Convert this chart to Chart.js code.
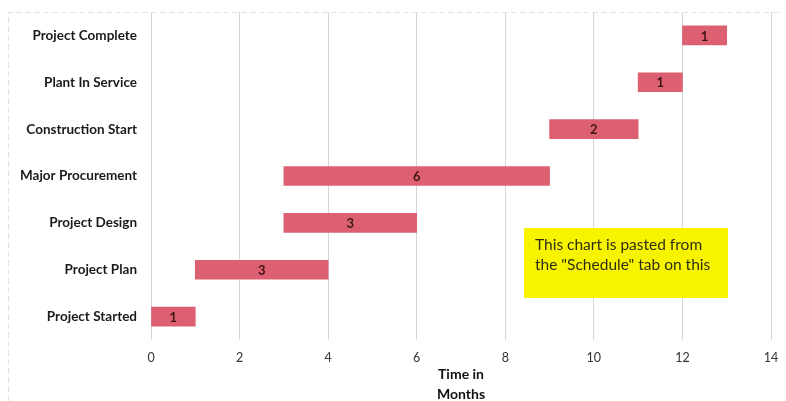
<!DOCTYPE html>
<html>
<head>
<meta charset="utf-8">
<script src="https://cdn.jsdelivr.net/npm/chart.js@4"></script>
<style>
  html, body { margin: 0; padding: 0; background: #fff; }
  #wrap { width: 786px; height: 401px; }
</style>
</head>
<body>
<div id="wrap"><canvas id="gantt" width="786" height="401"></canvas></div>
<script>
// Project phases, top to bottom
const categories = [
  'Project Complete',
  'Plant In Service',
  'Construction Start',
  'Major Procurement',
  'Project Design',
  'Project Plan',
  'Project Started'
];
// Start month and duration (months) of each phase
const startMonths = [12, 11, 9, 3, 3, 1, 0];
const durations   = [1, 1, 2, 6, 3, 3, 1];
const xTicks = [0, 2, 4, 6, 8, 10, 12, 14];
const noteLines = ['This chart is pasted from', 'the "Schedule" tab on this'];

const FONT = 'Lato, "Noto Sans", sans-serif';

// Each bar floats from its start month to start + duration
const spans = startMonths.map((s, i) => [s, s + durations[i]]);

// Duration label in the middle of each bar
const barLabels = {
  id: 'barLabels',
  afterDatasetsDraw(chart) {
    const ctx = chart.ctx;
    const meta = chart.getDatasetMeta(0);
    ctx.save();
    ctx.font = 'bold 13px ' + FONT;
    ctx.fillStyle = '#3e1616';
    ctx.textAlign = 'center';
    ctx.textBaseline = 'middle';
    meta.data.forEach((bar, i) => {
      const cx = (bar.x + bar.base) / 2;
      ctx.fillText(String(durations[i]), cx, bar.y + 1);
    });
    ctx.restore();
  }
};

// Thin frame along the top and left of the chart, plus the yellow note
const decor = {
  id: 'decor',
  beforeDraw(chart) {
    const ctx = chart.ctx;
    const area = chart.chartArea;
    ctx.save();
    ctx.strokeStyle = '#e2e2e2';
    ctx.lineWidth = 1;
    ctx.setLineDash([6, 3]);
    ctx.beginPath();
    ctx.moveTo(8.5, 401);
    ctx.lineTo(8.5, area.top + 0.5);
    ctx.lineTo(782, area.top + 0.5);
    ctx.stroke();
    ctx.restore();
  },
  afterDraw(chart) {
    const ctx = chart.ctx;
    ctx.save();
    ctx.fillStyle = '#f8f400';
    ctx.fillRect(524, 228, 204, 70);
    ctx.font = '15.5px ' + FONT;
    ctx.fillStyle = '#2e2e14';
    ctx.textAlign = 'left';
    ctx.textBaseline = 'middle';
    noteLines.forEach((t, i) => ctx.fillText(t, 535, 245 + i * 20));
    ctx.restore();
  }
};

new Chart(document.getElementById('gantt'), {
  type: 'bar',
  data: {
    labels: categories,
    datasets: [{
      data: spans,
      backgroundColor: '#dd6072',
      borderWidth: 0,
      borderSkipped: false,
      barThickness: 19
    }]
  },
  plugins: [decor, barLabels],
  options: {
    indexAxis: 'y',
    responsive: false,
    animation: false,
    layout: { padding: { top: 12, right: 15, left: 0, bottom: 0 } },
    plugins: {
      legend: { display: false },
      tooltip: { enabled: false }
    },
    scales: {
      x: {
        type: 'linear',
        min: 0,
        max: 14,
        afterBuildTicks(scale) { scale.ticks = xTicks.map(v => ({ value: v })); },
        afterFit(scale) {
          scale.height = 61;
          scale.paddingLeft = 0;
          scale.paddingRight = 0;
        },
        grid: { color: '#d6d6d6', lineWidth: 1, drawTicks: false },
        border: { display: false },
        ticks: {
          padding: 10,
          color: '#333',
          font: { family: FONT, size: 12.5 }
        },
        title: {
          display: true,
          text: ['Time in', 'Months'],
          color: '#111',
          font: { family: FONT, size: 14, weight: 'bold', lineHeight: 1.4 },
          padding: { top: 0, bottom: -3 }
        }
      },
      y: {
        type: 'category',
        afterFit(scale) {
          scale.width = 151;
          scale.paddingTop = 0;
          scale.paddingBottom = 0;
        },
        grid: { display: false, drawTicks: false },
        border: { display: false },
        ticks: {
          padding: 14,
          color: '#1a1a1a',
          font: { family: FONT, size: 13.5, weight: 'bold' }
        }
      }
    }
  }
});
</script>
</body>
</html>
